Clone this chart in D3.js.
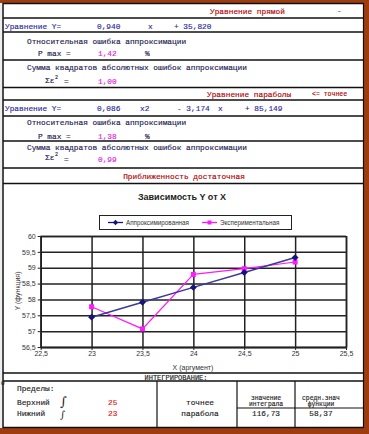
<!DOCTYPE html>
<html>
<head>
<meta charset="utf-8">
<script src="https://cdn.jsdelivr.net/npm/d3@7"></script>
<style>
  body { margin: 0; background: #fff; }
  svg { display: block; }
</style>
</head>
<body>
<div id="sheet"></div>
<script>
// chart data
let xValues = [23, 23.5, 24, 24.5, 25];
let approxValues = [57.44, 57.91, 58.38, 58.85, 59.32];
let expValues = [57.77, 57.07, 58.79, 58.97, 59.18];
let xTicks = [22.5, 23, 23.5, 24, 24.5, 25, 25.5];
let yTicks = [56.5, 57, 57.5, 58, 58.5, 59, 59.5, 60];
let seriesNames = ["Аппроксимированная", "Экспериментальная"];

// sheet texts
let lineEq = ["0,940", "x", "+ 35,820"];
let parEq = ["0,086", "x2", "- 3,174", "x", "+ 85,149"];
let pMax = ["1,42", "1,38"];
let sumSq = ["1,00", "0,99"];
let limits = ["25", "23"];
let integral = ["116,73", "58,37"];

let fmt = v => String(v).replace(".", ",");

function configuration(){
    let width = 369, height = 434;
    let svg = d3.select("#sheet").append("svg")
        .attr("width", width).attr("height", height);
    return { width, height, svg };
}

function drawSheet(config){
    let { svg, width, height } = config;
    let brown = "#9e3c10";
    svg.append("rect").attr("width", width).attr("height", height).attr("fill", "#fff");
    // frame
    svg.append("rect").attr("x", 0).attr("y", 0).attr("width", width).attr("height", 3).attr("fill", brown);
    svg.append("rect").attr("x", 364).attr("y", 0).attr("width", 5).attr("height", height).attr("fill", brown);
    svg.append("rect").attr("x", 0).attr("y", 428).attr("width", width).attr("height", 6).attr("fill", brown);
    svg.append("rect").attr("x", 0).attr("y", 3).attr("width", 2).attr("height", 425).attr("fill", "#eee");

    let hl = (y, x1, x2, w) => svg.append("line")
        .attr("x1", x1 || 3).attr("x2", x2 || 363.5).attr("y1", y).attr("y2", y)
        .attr("stroke", "#111").attr("stroke-width", w || 1.5);
    [3.5, 18, 32, 60, 87.5, 100, 116, 141, 168, 183.5, 373, 381].forEach(y => hl(y));
    hl(408, 237, 363.5, 1.2);
    hl(427.5);
    svg.append("line").attr("x1", 3).attr("x2", 3).attr("y1", 3).attr("y2", 428)
        .attr("stroke", "#111").attr("stroke-width", 1.5);
    svg.append("line").attr("x1", 363.5).attr("x2", 363.5).attr("y1", 3).attr("y2", 428)
        .attr("stroke", "#111").attr("stroke-width", 1.2);
    [157, 237, 295].forEach(x => svg.append("line")
        .attr("x1", x).attr("x2", x).attr("y1", 381).attr("y2", 428)
        .attr("stroke", "#111").attr("stroke-width", 1.2));

    let txt = (x, y, s, color, opts) => {
        opts = opts || {};
        return svg.append("text").attr("x", x).attr("y", y).text(s)
            .attr("fill", color || "#222")
            .attr("stroke", color || "#222").attr("stroke-width", 0.15)
            .style("font-family", "'Liberation Mono', 'DejaVu Sans Mono', monospace")
            .style("font-size", (opts.size || 7.8) + "px")
            .style("text-anchor", opts.anchor || "start");
    };
    let red = "#b00000", blue = "#2a2aa0", mag = "#e01ee0", dark = "#1a1a50";

    // straight line block
    txt(210, 14, "Уравнение прямой", red);
    txt(337, 13, "-", red);
    txt(5, 29, "Уравнение Y=", blue);
    txt(97, 29, lineEq[0], blue);
    txt(148, 29, lineEq[1], blue);
    txt(174, 29, lineEq[2], blue);
    txt(27, 44, "Относительная ошибка аппроксимации", dark);
    txt(38, 56, "P max =", dark);
    txt(98, 56, pMax[0], mag);
    txt(145, 56, "%", dark);
    txt(27, 70, "Сумма квадратов абсолютных ошибок аппроксимации", dark);
    txt(45, 83, "Σε", dark);
    txt(55, 79, "2", dark, { size: 5 });
    txt(64, 84, "=", dark);
    txt(98, 84, sumSq[0], mag);

    // parabola block
    txt(207, 97, "Уравнение параболы", red);
    txt(312, 96, "<= точнее", red, { size: 6.5 });
    txt(5, 111, "Уравнение Y=", blue);
    txt(97, 111, parEq[0], blue);
    txt(140, 111, parEq[1], blue);
    txt(177, 111, parEq[2], blue);
    txt(218, 111, parEq[3], blue);
    txt(245, 111, parEq[4], blue);
    txt(27, 125, "Относительная ошибка аппроксимации", dark);
    txt(38, 139, "P max =", dark);
    txt(98, 139, pMax[1], mag);
    txt(145, 139, "%", dark);
    txt(27, 150, "Сумма квадратов абсолютных ошибок аппроксимации", dark);
    txt(45, 160, "Σε", dark);
    txt(55, 156, "2", dark, { size: 5 });
    txt(64, 162, "=", dark);
    txt(98, 162, sumSq[1], mag);
    txt(184, 179, "Приближенность достаточная", red, { anchor: "middle" });

    // integration block
    txt(176, 379.5, "ИНТЕГРИРОВАНИЕ:", "#222", { anchor: "middle", size: 7 });
    txt(1, 385, "0", "#222", { size: 6 });
    txt(17, 391, "Пределы:", "#222");
    txt(17, 405, "Верхний", "#222");
    txt(17, 416, "Нижний", "#222");
    svg.append("text").attr("x", 60).attr("y", 406).text("∫")
        .style("font-family", "'DejaVu Serif', serif").style("font-size", "13px").attr("fill", "#222");
    svg.append("text").attr("x", 60).attr("y", 418).text("∫")
        .style("font-family", "'DejaVu Serif', serif").style("font-size", "10px").attr("fill", "#222");
    txt(108, 405, limits[0], "#e02020");
    txt(108, 416, limits[1], "#e02020");
    txt(200, 405, "точнее", "#222", { anchor: "middle" });
    txt(200, 416, "парабола", "#222", { anchor: "middle" });
    txt(266, 399.5, "значение", "#222", { anchor: "middle", size: 6.3 });
    txt(266, 406, "интеграла", "#222", { anchor: "middle", size: 6.3 });
    txt(321, 399.5, "средн.знач", "#222", { anchor: "middle", size: 6.3 });
    txt(321, 406, "функции", "#222", { anchor: "middle", size: 6.3 });
    txt(266, 416, integral[0], "#222", { anchor: "middle" });
    txt(321, 416, integral[1], "#222", { anchor: "middle" });
}

function drawChart(config){
    let { svg } = config;
    let font = "'Liberation Sans', Arial, sans-serif";
    let xScale = d3.scaleLinear().domain([22.5, 25.5]).range([40.7, 346]);
    let yScale = d3.scaleLinear().domain([56.5, 60]).range([347, 236]);

    svg.append("text").attr("x", 182).attr("y", 200).text("Зависимость Y от X")
        .style("font-family", font).style("font-size", "9px").style("font-weight", "bold")
        .style("text-anchor", "middle").attr("fill", "#222");

    // grid
    let g = svg.append("g");
    let axisX = d3.axisBottom(xScale).tickValues(xTicks).tickSize(-(347 - 236)).tickFormat(fmt);
    let axisY = d3.axisLeft(yScale).tickValues(yTicks).tickSize(-(346 - 40.7)).tickFormat(fmt);
    let gx = g.append("g").attr("transform", "translate(0,347)").call(axisX);
    let gy = g.append("g").attr("transform", "translate(40.7,0)").call(axisY);
    [gx, gy].forEach(a => {
        a.select(".domain").attr("stroke", "#222").attr("stroke-width", 1.5);
        a.selectAll(".tick line").attr("stroke", "#222").attr("stroke-width", 1.5);
        a.selectAll(".tick text").style("font-family", font).style("font-size", "7px").attr("fill", "#333");
    });
    gx.selectAll(".tick text").attr("dy", "0.9em").attr("y", 3);
    gy.selectAll(".tick text").attr("x", -5);
    // outer tick stubs
    gy.selectAll(".tick").append("line").attr("x1", -3).attr("x2", 0).attr("stroke", "#222");
    gx.selectAll(".tick").append("line").attr("y1", 0).attr("y2", 3).attr("stroke", "#222");

    svg.append("text").attr("x", 193).attr("y", 370).text("X (аргумент)")
        .style("font-family", font).style("font-size", "7px").style("text-anchor", "middle").attr("fill", "#333");
    svg.append("text").attr("transform", "translate(20,291) rotate(-90)").text("Y (функция)")
        .style("font-family", font).style("font-size", "7px").style("text-anchor", "middle").attr("fill", "#333");

    let navy = "#14147a", pink = "#ff1aff";
    let line = d3.line().x(d => xScale(d[0])).y(d => yScale(d[1]));
    let approx = xValues.map((x, i) => [x, approxValues[i]]);
    let exp = xValues.map((x, i) => [x, expValues[i]]);

    svg.append("path").datum(exp).attr("d", line).attr("fill", "none").attr("stroke", pink).attr("stroke-width", 1.2);
    svg.append("path").datum(approx).attr("d", line).attr("fill", "none").attr("stroke", "#3a3a9a").attr("stroke-width", 1.5);
    svg.selectAll(".sq").data(exp).enter().append("rect")
        .attr("x", d => xScale(d[0]) - 2.5).attr("y", d => yScale(d[1]) - 2.5)
        .attr("width", 5).attr("height", 5).attr("fill", pink);
    let diamond = d3.symbol().type(d3.symbolDiamond2).size(30);
    svg.selectAll(".dm").data(approx).enter().append("path")
        .attr("d", diamond)
        .attr("transform", d => "translate(" + [xScale(d[0]), yScale(d[1])] + ")")
        .attr("fill", navy);

    // legend
    let lg = svg.append("g");
    lg.append("rect").attr("x", 99.5).attr("y", 215.5).attr("width", 192).attr("height", 14)
        .attr("fill", "#fff").attr("stroke", "#222").attr("stroke-width", 1);
    let items = [{ x: 108, color: navy, name: seriesNames[0] }, { x: 202, color: pink, name: seriesNames[1] }];
    items.forEach((it, i) => {
        lg.append("line").attr("x1", it.x).attr("x2", it.x + 15).attr("y1", 222.5).attr("y2", 222.5)
            .attr("stroke", it.color).attr("stroke-width", 1.3);
        if (i == 0) {
            lg.append("path").attr("d", d3.symbol().type(d3.symbolDiamond2).size(18))
                .attr("transform", "translate(" + [it.x + 7.5, 222.5] + ")").attr("fill", it.color);
        } else {
            lg.append("rect").attr("x", it.x + 5.5).attr("y", 220.5).attr("width", 4).attr("height", 4).attr("fill", it.color);
        }
        lg.append("text").attr("x", it.x + 18).attr("y", 225).text(it.name)
            .style("font-family", font).style("font-size", "6.3px").attr("fill", "#333");
    });
}

let config = configuration();
drawSheet(config);
drawChart(config);
</script>
</body>
</html>
